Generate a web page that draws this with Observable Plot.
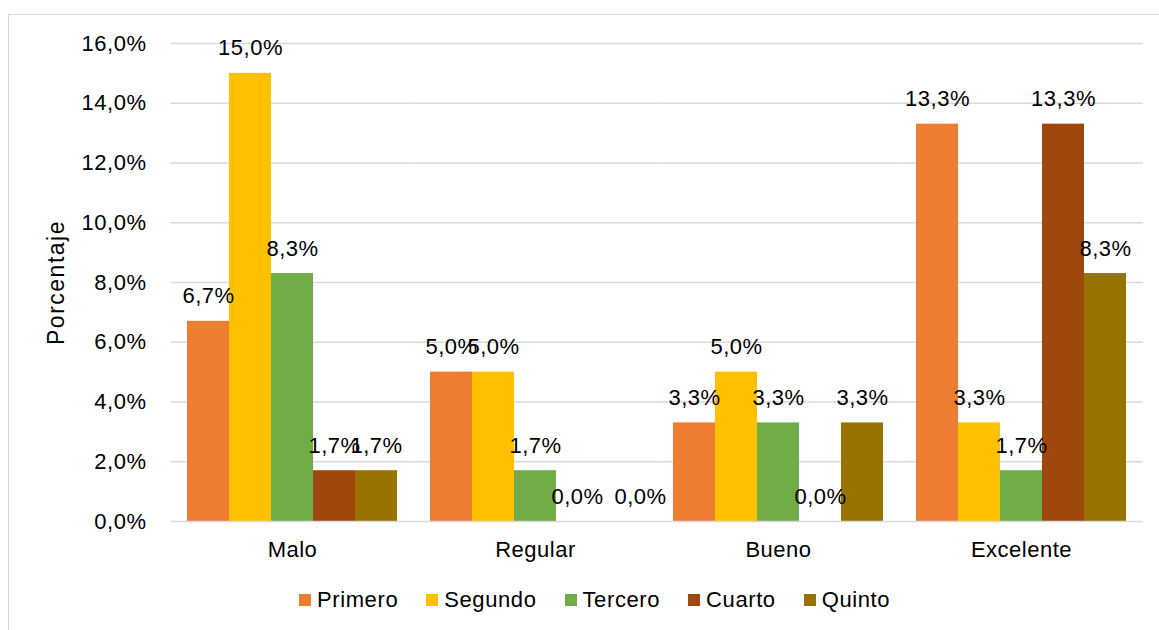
<!DOCTYPE html>
<html>
<head>
<meta charset="utf-8">
<script src="https://cdn.jsdelivr.net/npm/d3@7"></script>
<script src="https://cdn.jsdelivr.net/npm/@observablehq/plot@0.6"></script>
<style>
  html, body { margin: 0; padding: 0; background: #fff; width: 1159px; height: 630px; overflow: hidden; position: relative; font-family: "Liberation Sans", Arial, sans-serif; }
  #frame { position: absolute; left: 8px; top: 14px; width: 1300px; height: 800px; border-left: 1.5px solid #d9d9d9; border-top: 1.5px solid #d9d9d9; }
  #chart { position: absolute; left: 0; top: 0; }
  #chart svg text { letter-spacing: 0.5px; }
  #chart svg [aria-label="y-axis label"] text { font-size: 23px; letter-spacing: 1.5px; }
  #legend { position: absolute; left: 299px; top: 587px; display: flex; align-items: center; font-size: 22px; letter-spacing: 0.6px; color: #000; white-space: nowrap; }
  #legend .item { display: flex; align-items: center; margin-right: 28px; }
  #legend .sw { width: 12px; height: 12px; margin-right: 6px; }
</style>
</head>
<body>
<div id="frame"></div>
<div id="chart"></div>
<div id="legend"></div>
<script>
const categories = ["Malo", "Regular", "Bueno", "Excelente"];
const series = ["Primero", "Segundo", "Tercero", "Cuarto", "Quinto"];
const primero = [6.7, 5.0, 3.3, 13.3];
const segundo = [15.0, 5.0, 5.0, 3.3];
const tercero = [8.3, 1.7, 3.3, 1.7];
const cuarto  = [1.7, 0.0, 0.0, 13.3];
const quinto  = [1.7, 0.0, 3.3, 8.3];
const colors = ["#ED7D31", "#FFC000", "#70AD47", "#9E480E", "#997300"];
const yTicks = [0, 2, 4, 6, 8, 10, 12, 14, 16];

const seriesValues = [primero, segundo, tercero, cuarto, quinto];
const data = [];
categories.forEach((cat, i) => {
  series.forEach((s, j) => {
    data.push({cat, serie: s, value: seriesValues[j][i]});
  });
});
const fmt = d => d.toFixed(1).replace(".", ",") + "%";
const isShifted = d => d.cat === "Regular" && d.serie === "Quinto";

const chart = Plot.plot({
  width: 1159,
  height: 560,
  marginLeft: 170,
  marginRight: 17,
  marginTop: 43,
  marginBottom: 39,
  style: {fontFamily: "'Liberation Sans', Arial, sans-serif", fontSize: "22px", color: "#000", background: "transparent", overflow: "visible"},
  fx: {domain: categories, paddingInner: 33 / 243, paddingOuter: 16.5 / 243, label: null, tickSize: 0, tickPadding: 20, axis: "bottom"},
  x: {domain: series, padding: 0, axis: null},
  y: {domain: [0, 16]},
  color: {domain: series, range: colors},
  marks: [
    Plot.ruleY(yTicks.filter(d => d > 0), {stroke: "#d9d9d9", strokeWidth: 1.3, insetLeft: -16.6, insetRight: -16.6}),
    Plot.axisY({ticks: yTicks, tickFormat: fmt, tickSize: 0, tickPadding: 41, label: "Porcentaje", labelAnchor: "center", labelOffset: 140, labelArrow: "none"}),
    Plot.barY(data, {fx: "cat", x: "serie", y: "value", fill: "serie", inset: 0}),
    Plot.ruleY([0], {stroke: "#d9d9d9", strokeWidth: 1.5, insetLeft: -16.6, insetRight: -16.6}),
    Plot.text(data.filter(d => !isShifted(d)), {fx: "cat", x: "serie", y: "value", text: d => fmt(d.value), dy: -25, lineAnchor: "middle", fill: "#000"}),
    Plot.text(data.filter(isShifted), {fx: "cat", x: "serie", y: "value", text: d => fmt(d.value), dy: -25, dx: 21, lineAnchor: "middle", fill: "#000"})
  ]
});
document.getElementById("chart").appendChild(chart);

const legend = document.getElementById("legend");
series.forEach((s, i) => {
  const item = document.createElement("div");
  item.className = "item";
  const sw = document.createElement("span");
  sw.className = "sw";
  sw.style.background = colors[i];
  const t = document.createElement("span");
  t.textContent = s;
  item.appendChild(sw);
  item.appendChild(t);
  legend.appendChild(item);
});
</script>
</body>
</html>
